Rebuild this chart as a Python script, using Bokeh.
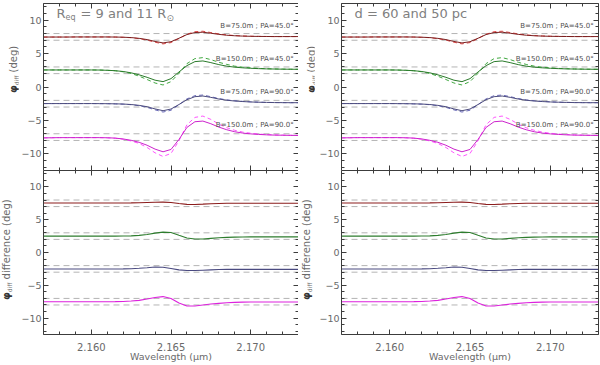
from bokeh.plotting import figure
from bokeh.models import (LinearAxis, FixedTicker, Range1d, Label, Span, PrintfTickFormatter,
                          CustomLabelingPolicy, Div)
from bokeh.layouts import row, column
from bokeh.embed import file_html
from bokeh.resources import INLINE

# ---------------- data ----------------
wavelength = [2.1570, 2.1575, 2.1580, 2.1585, 2.1590, 2.1595, 2.1600, 2.1605, 2.1610,
              2.1615, 2.1620, 2.1625, 2.1630, 2.1635, 2.1640, 2.1645, 2.1650, 2.1655,
              2.1660, 2.1665, 2.1670, 2.1675, 2.1680, 2.1685, 2.1690, 2.1695, 2.1700,
              2.1705, 2.1710, 2.1715, 2.1720, 2.1725, 2.1730]

# top panels: phi_diff (offset per baseline/PA), model A (solid) and model B (dashed)
phi_b75_pa45_a = [7.48, 7.48, 7.48, 7.48, 7.49, 7.49, 7.49, 7.49, 7.49, 7.48, 7.45, 7.40, 7.28,
                  7.10, 6.82, 6.60, 6.78, 7.30, 7.85, 8.15, 8.20, 8.05, 7.88, 7.75, 7.67, 7.62,
                  7.59, 7.57, 7.56, 7.55, 7.55, 7.55, 7.55]
phi_b75_pa45_b = [7.48, 7.48, 7.48, 7.48, 7.49, 7.49, 7.49, 7.49, 7.49, 7.48, 7.44, 7.38, 7.24,
                  7.02, 6.70, 6.45, 6.65, 7.25, 7.90, 8.28, 8.35, 8.15, 7.95, 7.80, 7.70, 7.64,
                  7.60, 7.58, 7.56, 7.55, 7.55, 7.55, 7.55]
phi_b150_pa45_a = [2.55, 2.55, 2.55, 2.55, 2.55, 2.55, 2.55, 2.54, 2.50, 2.44, 2.32, 2.12, 1.82,
                   1.45, 1.02, 0.80, 1.25, 2.25, 3.20, 3.80, 3.90, 3.65, 3.35, 3.12, 2.97, 2.87,
                   2.80, 2.75, 2.71, 2.69, 2.67, 2.66, 2.65]
phi_b150_pa45_b = [2.55, 2.55, 2.55, 2.55, 2.55, 2.55, 2.55, 2.54, 2.50, 2.43, 2.28, 2.02, 1.62,
                   1.12, 0.60, 0.30, 0.80, 2.05, 3.50, 4.25, 4.40, 4.10, 3.70, 3.38, 3.12, 2.97,
                   2.87, 2.79, 2.74, 2.70, 2.68, 2.66, 2.65]
phi_b75_pa90_a = [-2.48, -2.48, -2.48, -2.48, -2.48, -2.48, -2.48, -2.49, -2.50, -2.52, -2.55,
                  -2.62, -2.75, -2.95, -3.28, -3.55, -3.30, -2.62, -1.90, -1.45, -1.35, -1.55,
                  -1.80, -1.98, -2.10, -2.18, -2.24, -2.28, -2.31, -2.33, -2.34, -2.35, -2.35]
phi_b75_pa90_b = [-2.48, -2.48, -2.48, -2.48, -2.48, -2.48, -2.48, -2.49, -2.50, -2.53, -2.57,
                  -2.65, -2.80, -3.05, -3.42, -3.75, -3.48, -2.65, -1.78, -1.30, -1.20, -1.45,
                  -1.72, -1.93, -2.06, -2.15, -2.22, -2.27, -2.30, -2.33, -2.34, -2.35, -2.35]
phi_b150_pa90_a = [-7.62, -7.60, -7.58, -7.58, -7.58, -7.58, -7.58, -7.58, -7.60, -7.65, -7.78,
                   -7.98, -8.28, -8.72, -9.30, -9.70, -9.35, -7.85, -6.05, -5.20, -5.10, -5.50,
                   -6.00, -6.40, -6.70, -6.90, -7.02, -7.10, -7.16, -7.20, -7.22, -7.24, -7.25]
phi_b150_pa90_b = [-7.62, -7.60, -7.58, -7.58, -7.58, -7.58, -7.58, -7.58, -7.61, -7.67, -7.82,
                   -8.08, -8.45, -9.05, -9.85, -10.40, -9.95, -8.05, -5.65, -4.55, -4.35, -4.85,
                   -5.55, -6.10, -6.48, -6.75, -6.92, -7.04, -7.12, -7.17, -7.20, -7.23, -7.25]

# bottom panels: phi_diff difference
dphi_b75_pa45 = [7.55, 7.55, 7.55, 7.55, 7.55, 7.55, 7.55, 7.55, 7.55, 7.55, 7.55, 7.56, 7.58,
                 7.62, 7.66, 7.68, 7.62, 7.46, 7.34, 7.32, 7.37, 7.44, 7.48, 7.50, 7.50, 7.50,
                 7.50, 7.50, 7.50, 7.50, 7.50, 7.50, 7.50]
dphi_b150_pa45 = [2.50, 2.50, 2.50, 2.50, 2.50, 2.50, 2.50, 2.50, 2.50, 2.50, 2.51, 2.54, 2.61,
                  2.75, 2.95, 3.10, 3.04, 2.62, 2.22, 2.06, 2.06, 2.15, 2.24, 2.30, 2.34, 2.36,
                  2.38, 2.38, 2.38, 2.38, 2.38, 2.38, 2.38]
dphi_b75_pa90 = [-2.52, -2.52, -2.52, -2.52, -2.52, -2.52, -2.52, -2.52, -2.52, -2.51, -2.50,
                 -2.47, -2.41, -2.32, -2.22, -2.24, -2.44, -2.65, -2.75, -2.75, -2.70, -2.65,
                 -2.60, -2.58, -2.58, -2.58, -2.58, -2.58, -2.58, -2.58, -2.58, -2.58, -2.58]
dphi_b150_pa90 = [-7.50, -7.50, -7.50, -7.50, -7.50, -7.50, -7.50, -7.50, -7.50, -7.49, -7.46,
                  -7.40, -7.30, -7.10, -6.86, -6.72, -7.00, -7.70, -8.15, -8.15, -8.00, -7.86,
                  -7.75, -7.66, -7.60, -7.57, -7.55, -7.55, -7.55, -7.55, -7.55, -7.55, -7.55]

# grey dashed reference levels (baseline +/- 0.5)
ref_levels = [8.0, 7.0, 3.0, 2.0, -2.0, -3.0, -7.0, -8.0]

series_labels = ["B=75.0m ; PA=45.0°", "B=150.0m ; PA=45.0°",
                 "B=75.0m ; PA=90.0°", "B=150.0m ; PA=90.0°"]
label_levels = [9.1, 4.2, -0.75, -5.7]

panel_titles_left = ["R", "eq", "= 9 and 11 R", "⊙"]
panel_title_right = "d = 60 and 50 pc"
ytitle_top = "(deg)"
ytitle_bottom = "difference (deg)"
xtitle = "Wavelength (μm)"

x_major = [2.160, 2.165, 2.170]
y_major = [-10, -5, 0, 5, 10]
y_major_text = {-10: "−10", -5: "−5", 0: "0", 5: "5", 10: "10"}

# ---------------- styling ----------------
FONT = "DejaVu Sans"
AXC = "#3c3c3c"
TXT = "#6a6a6a"
solid_colors = ["#7a1f1f", "#2a7a2a", "#4b4b7d", "#cc22cc"]
dash_colors = ["#e04848", "#40a840", "#6a6ab8", "#ff55ff"]
diff_colors = ["#8b1c1c", "#2e7d2e", "#4a4a80", "#dd22dd"]

x_minor = [round(2.157 + 0.001 * k, 3) for k in range(17)]
y_minor = list(range(-12, 13))


def style_axis(ax, show):
    ax.major_tick_in = 5
    ax.major_tick_out = 0
    ax.minor_tick_in = 3
    ax.minor_tick_out = 0
    ax.axis_line_color = AXC
    ax.major_tick_line_color = AXC
    ax.minor_tick_line_color = AXC
    ax.major_label_text_font = FONT
    ax.major_label_text_color = TXT
    ax.axis_label_text_font = FONT
    ax.axis_label_text_color = TXT
    ax.axis_label_text_font_style = "normal"
    if show:
        ax.major_label_text_font_size = "10px"
    else:
        ax.major_label_text_font_size = "0px"
        ax.major_label_standoff = 0
        ax.major_label_policy = CustomLabelingPolicy(code="return []")


def make_fig(width, height, left, right, top, bottom, xlabels):
    p = figure(width=width, height=height,
               x_range=Range1d(2.157, 2.173), y_range=Range1d(-12.5, 12.5),
               output_backend="svg", toolbar_location=None,
               x_axis_location=None, y_axis_location=None,
               min_border_left=left, min_border_right=right,
               min_border_top=top, min_border_bottom=bottom, margin=0)
    p.outline_line_color = None
    p.grid.visible = False
    p.background_fill_color = "white"
    p.border_fill_color = "white"
    for loc in ["left", "right"]:
        ax = LinearAxis(ticker=FixedTicker(ticks=y_major, minor_ticks=y_minor))
        style_axis(ax, loc == "left")
        if loc == "left":
            ax.major_label_overrides = y_major_text
            ax.major_label_text_font_size = "9.5px"
            ax.major_label_standoff = 2
        p.add_layout(ax, loc)
    for loc in ["below", "above"]:
        ax = LinearAxis(ticker=FixedTicker(ticks=x_major, minor_ticks=x_minor),
                        formatter=PrintfTickFormatter(format="%.3f"))
        show = (loc == "below" and xlabels)
        style_axis(ax, show)
        if show:
            ax.axis_label = xtitle
            ax.axis_label_text_font_size = "9.5px"
            ax.major_label_standoff = 8
            ax.axis_label_standoff = -3
        p.add_layout(ax, loc)
    for lv in ref_levels:
        p.add_layout(Span(location=lv, dimension="width", line_color="#b4b4b4",
                          line_width=1, line_dash="6 4", level="underlay"))
    return p


def ytitle_div(width, height, left, bottom_y, rest):
    html = (
        f'<div style="position:relative;width:{width}px;height:{height}px;">'
        f'<span style="position:absolute;left:{left}px;top:{bottom_y}px;'
        'transform:rotate(-90deg);transform-origin:0 0;white-space:nowrap;'
        "font-family:'DejaVu Sans';font-size:10px;line-height:12px;color:#6a6a6a;\">"
        '<b style="color:#333333;">φ</b>'
        '<sub style="font-size:6px;vertical-align:-2px;">diff</sub>'
        f'&nbsp;{rest}</span></div>'
    )
    return Div(text=html, width=width, height=height, margin=0)


def top_panel(p, right):
    tops_a = [phi_b75_pa45_a, phi_b150_pa45_a, phi_b75_pa90_a, phi_b150_pa90_a]
    tops_b = [phi_b75_pa45_b, phi_b150_pa45_b, phi_b75_pa90_b, phi_b150_pa90_b]
    for ya, yb, cs, cd in zip(tops_a, tops_b, solid_colors, dash_colors):
        p.line(wavelength, yb, line_color=cd, line_width=1, line_dash="4 3")
        p.line(wavelength, ya, line_color=cs, line_width=1)
    for txt, lv in zip(series_labels, label_levels):
        p.add_layout(Label(x=2.1727, y=lv, text=txt, text_font=FONT, text_font_size="7px",
                           text_color="#505050", text_align="right", text_baseline="middle"))
    ty = 157
    if not right:
        r, eq, mid, sun = panel_titles_left
        p.add_layout(Label(x=13, y=ty, x_units="screen", y_units="screen", text=r,
                           text_font=FONT, text_font_size="13px", text_color="#808080",
                           text_baseline="middle"))
        p.add_layout(Label(x=22, y=ty - 4, x_units="screen", y_units="screen", text=eq,
                           text_font=FONT, text_font_size="8px", text_color="#808080",
                           text_baseline="middle"))
        p.add_layout(Label(x=37, y=ty, x_units="screen", y_units="screen", text=mid,
                           text_font=FONT, text_font_size="13px", text_color="#808080",
                           text_baseline="middle"))
        p.add_layout(Label(x=123, y=ty - 4, x_units="screen", y_units="screen", text=sun,
                           text_font=FONT, text_font_size="9px", text_color="#808080",
                           text_baseline="middle"))
    else:
        p.add_layout(Label(x=13, y=ty, x_units="screen", y_units="screen", text=panel_title_right,
                           text_font=FONT, text_font_size="13px", text_color="#808080",
                           text_baseline="middle"))


def bottom_panel(p):
    diffs = [dphi_b75_pa45, dphi_b150_pa45, dphi_b75_pa90, dphi_b150_pa90]
    for yd, c in zip(diffs, diff_colors):
        p.line(wavelength, yd, line_color=c, line_width=1.1)


TOP_H = 170
BOT_H = 194

tl = make_fig(280, TOP_H, 22, 0, 3, 0, False)
tr = make_fig(286, TOP_H, 27, 2, 3, 0, False)
bl = make_fig(280, BOT_H, 22, 0, 0, 30, True)
br = make_fig(286, BOT_H, 27, 2, 0, 30, True)

top_panel(tl, False)
top_panel(tr, True)
bottom_panel(bl)
bottom_panel(br)

d_tl = ytitle_div(18, TOP_H, 8, 93, ytitle_top)
d_tr = ytitle_div(16, TOP_H, 8, 93, ytitle_top)
d_bl = ytitle_div(18, BOT_H, 1, 130, ytitle_bottom)
d_br = ytitle_div(16, BOT_H, 3, 130, ytitle_bottom)

layout = column(row(d_tl, tl, d_tr, tr, spacing=0), row(d_bl, bl, d_br, br, spacing=0), spacing=0)

open("out.html", "w").write(file_html(layout, INLINE, title="phi diff"))
